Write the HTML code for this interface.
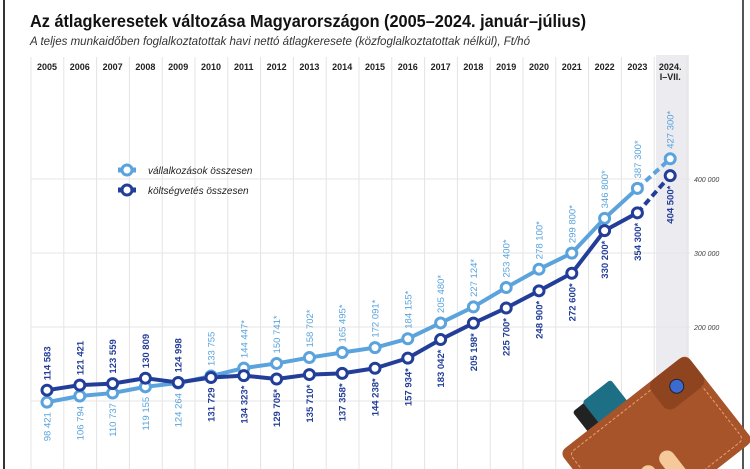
<!DOCTYPE html><html><head><meta charset="utf-8"><style>
html,body{margin:0;background:#fff;width:750px;height:469px;overflow:hidden;font-family:"Liberation Sans",sans-serif}
svg{display:block}
</style></head><body>
<svg id="s" width="750" height="469" viewBox="0 0 750 469" xmlns="http://www.w3.org/2000/svg" font-family="Liberation Sans, sans-serif">
<rect x="0" y="0" width="750" height="469" fill="#fff"/>
<rect x="3" y="0" width="2" height="469" fill="#333"/>
<rect x="742" y="0" width="2" height="469" fill="#555"/>
<text x="30" y="27" font-size="17.5" font-weight="bold" fill="#111" textLength="556" lengthAdjust="spacingAndGlyphs">Az átlagkeresetek változása Magyarországon (2005–2024. január–július)</text>
<text x="30" y="45" font-size="11.5" font-style="italic" fill="#333" textLength="500" lengthAdjust="spacingAndGlyphs">A teljes munkaidőben foglalkoztatottak havi nettó átlagkeresete (közfoglalkoztatottak nélkül), Ft/hó</text>
<rect x="656" y="55" width="33" height="414" fill="#ececf0"/>
<g id="g"></g>
<g transform="translate(118,170)">
<line x1="0" y1="0" x2="18" y2="0" stroke="#5aa3dc" stroke-width="5"/><circle cx="9" cy="0" r="5" fill="#fff" stroke="#5aa3dc" stroke-width="3"/>
<text x="30" y="4" font-size="10" font-style="italic" fill="#222">vállalkozások összesen</text>
<line x1="0" y1="20" x2="18" y2="20" stroke="#233e99" stroke-width="5"/><circle cx="9" cy="20" r="5" fill="#fff" stroke="#233e99" stroke-width="3"/>
<text x="30" y="24" font-size="10" font-style="italic" fill="#222">költségvetés összesen</text>
</g>
<g transform="translate(650,430) rotate(-38)">
<rect x="-50" y="-62" width="34" height="60" rx="3" fill="#222"/>
<rect x="-36" y="-64" width="36" height="60" rx="3" fill="#1d6f86"/>
<rect x="-85" y="-38" width="160" height="110" rx="7" fill="#a8542a"/>
<rect x="-78" y="-31" width="146" height="96" rx="5" fill="none" stroke="#e8a070" stroke-dasharray="3 2"/>
<rect x="25" y="-38" width="50" height="36" rx="9" fill="#8f4420"/>
<circle cx="48" cy="-18" r="7" fill="#3b6ad0" stroke="#222"/>
<rect x="-60" y="25" width="16" height="70" rx="8" fill="#f5c99a"/>
<rect x="-36" y="25" width="16" height="70" rx="8" fill="#f5c99a"/>
<rect x="-12" y="25" width="16" height="70" rx="8" fill="#f5c99a"/>
</g>
</svg>
<script>
var L=[98421,106794,110737,119155,124264,133755,144447,150741,158702,165495,172091,184155,205480,227124,253400,278100,299800,346800,387300,427300];
var D=[114583,121421,123559,130809,124998,131729,134323,129705,135710,137358,144238,157934,183042,205198,225700,248900,272600,330200,354300,404500];
var g=document.getElementById('g'),h='';
function X(i){return 47+i*32.8}function Y(v){return 475-v*0.00074}
for(var i=0;i<=20;i++){var x=31+i*32.8;h+='<line x1="'+x+'" y1="57" x2="'+x+'" y2="469" stroke="#e4e4e4" stroke-width="1"/>';}
[100000,200000,300000,400000].forEach(function(v){var y=Y(v);h+='<line x1="31" y1="'+y+'" x2="690" y2="'+y+'" stroke="#e6e6e6"/><text x="694" y="'+(y+3)+'" font-size="7" font-style="italic" fill="#444">'+(v/1000)+' 000</text>';});
for(var i=0;i<20;i++){var yr=i<19?String(2005+i):'2024.';h+='<text x="'+X(i)+'" y="70" font-size="9" font-weight="bold" text-anchor="middle" fill="#222">'+yr+'</text>';}
h+='<text x="'+X(19)+'" y="80" font-size="9" font-weight="bold" text-anchor="middle" fill="#222">I–VII.</text>';
function fmt(v){var s=String(v);return s.slice(0,s.length-3)+' '+s.slice(-3)}
function line(A,c){var p='';for(var i=0;i<19;i++)p+=(i?'L':'M')+X(i)+' '+Y(A[i]);h+='<path d="'+p+'" fill="none" stroke="'+c+'" stroke-width="4" stroke-linejoin="round"/>';h+='<line x1="'+X(18)+'" y1="'+Y(A[18])+'" x2="'+X(19)+'" y2="'+Y(A[19])+'" stroke="'+c+'" stroke-width="4" stroke-dasharray="7 4"/>';}
line(L,'#5aa3dc');line(D,'#233e99');
function pts(A,c,above){for(var i=0;i<20;i++){var x=X(i),y=Y(A[i]);h+='<circle cx="'+x+'" cy="'+y+'" r="5" fill="#fff" stroke="'+c+'" stroke-width="3"/>';var t=fmt(A[i])+(i>=6?'*':'');var up=above(i);
var ty=up?y-10:y+10;h+='<text transform="translate('+(x+3.5)+','+ty+') rotate(-90)" font-size="9.5" font-weight="'+(c=='#233e99'?'bold':'normal')+'" text-anchor="'+(up?'start':'end')+'" fill="'+c+'">'+t+'</text>';}}
pts(L,'#5aa3dc',function(i){return i>=5});pts(D,'#233e99',function(i){return i<5});
g.innerHTML=h;
</script>
</body></html>
